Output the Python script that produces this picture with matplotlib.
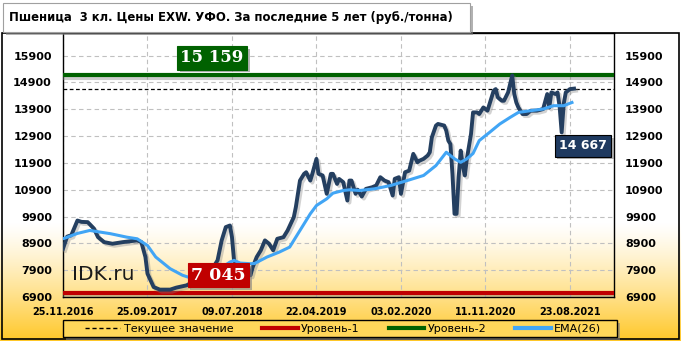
import numpy as np
import matplotlib
matplotlib.use("Agg")
import matplotlib.pyplot as plt
import matplotlib.patheffects as pe
from matplotlib.lines import Line2D
from matplotlib.patches import Rectangle

# weekly prices (week index, rub/t)
price_points = [
    (0, 8700), (2, 9150), (4, 9200), (7, 9750), (9, 9700), (12, 9690), (15, 9450),
    (17, 9130), (20, 8945), (24, 8885), (29, 8945), (36, 9010), (38, 8950), (40, 8390),
    (41, 7770), (44, 7270), (47, 7175), (52, 7175), (55, 7250), (60, 7335), (63, 7460),
    (68, 7650), (72, 7900), (75, 8265), (77, 9010), (79, 9505), (81, 9565), (82, 9130),
    (83, 8265), (84, 8140), (89, 7955), (91, 7710), (92, 8000), (94, 8390), (96, 8640),
    (98, 9010), (100, 8885), (102, 8640), (104, 9070), (107, 9130), (109, 9380),
    (112, 9875), (113, 10250), (115, 11240), (117, 11490), (118, 11550), (120, 11240),
    (121, 11490), (123, 12050), (124, 11490), (126, 11430), (128, 10745), (130, 11490),
    (131, 11490), (133, 11115), (134, 11300), (136, 11180), (138, 10495), (139, 11240),
    (140, 11240), (142, 10745), (143, 10900), (145, 10645), (147, 10930), (150, 10990),
    (152, 11055), (154, 11365), (156, 11240), (158, 11180), (160, 10680), (161, 11305),
    (163, 11365), (164, 10745), (166, 11550), (168, 11610), (170, 12235), (172, 11920),
    (173, 11980), (175, 12050), (177, 12175), (178, 12295), (179, 12850), (181, 13290),
    (182, 13350), (185, 13290), (186, 13100), (187, 12730), (188, 12600), (189, 11490),
    (190, 10000), (191, 10000), (192, 11365), (193, 12355), (194, 11800), (195, 11430),
    (196, 12050), (198, 12975), (199, 13780), (201, 13780), (202, 13720), (204, 13965),
    (206, 13845), (207, 14090), (209, 14590), (210, 14650), (211, 14340), (213, 14215),
    (214, 14215), (216, 14525), (218, 15159), (219, 14465), (220, 14150), (221, 13965),
    (223, 13720), (225, 13720), (227, 13845), (230, 13845), (233, 13905), (235, 14465),
    (236, 13965), (237, 14525), (239, 14465), (240, 14525), (241, 14000), (242, 13035),
    (243, 14100), (244, 14525), (246, 14650), (248, 14667),
]

ema_points = [
    (0, 9070), (7, 9270), (13, 9380), (23, 9260), (31, 9130), (36, 9070), (41, 8820),
    (45, 8390), (52, 7955), (58, 7710), (63, 7585), (70, 7680), (76, 7950), (81, 8200),
    (83, 8265), (86, 8165), (91, 8140), (93, 8150), (99, 8390), (105, 8575), (110, 8760),
    (115, 9380), (120, 10000), (123, 10310), (128, 10560), (131, 10770), (136, 10870),
    (139, 10895), (144, 10870), (151, 10930), (159, 11055), (167, 11240), (175, 11430),
    (181, 11800), (186, 12295), (190, 12050), (193, 11920), (196, 12050), (199, 12250),
    (202, 12730), (207, 13035), (212, 13350), (217, 13595), (221, 13780), (227, 13845),
    (233, 13905), (238, 14030), (243, 14030), (247, 14150),
]

tick_weeks = [0, 41, 82, 123, 164, 205, 246]
tick_dates = ["25.11.2016", "25.09.2017", "09.07.2018", "22.04.2019",
              "03.02.2020", "11.11.2020", "23.08.2021"]
y_ticks = [6900, 7900, 8900, 9900, 10900, 11900, 12900, 13900, 14900, 15900]

level1 = 7045
level2 = 15159
current = 14667

title = "Пшеница  3 кл. Цены EXW. УФО. За последние 5 лет (руб./тонна)"
legend_labels = ["Текущее значение", "Уровень-1", "Уровень-2", "EMA(26)"]

W, H = 681, 341
fig = plt.figure(figsize=(W / 100, H / 100), dpi=100)

# background: white fading into gold at the bottom
bg = fig.add_axes([0, 0, 1, 1], zorder=-10)
bg.axis("off")
rows = np.arange(H)
t = np.clip((rows - 222) / (H - 222), 0, 1) ** 1.25
white = np.array([1.0, 1.0, 1.0])
gold = np.array([1.0, 0.78, 0.15])
grad = white[None, :] * (1 - t[:, None]) + gold[None, :] * t[:, None]
img = np.repeat(grad[:, None, :], 4, axis=1)
bg.imshow(img, aspect="auto", extent=[0, 1, 0, 1], origin="upper")
bg.set_xlim(0, 1)
bg.set_ylim(0, 1)

# outer frame
fig.patches.append(Rectangle((1.5 / W, 2 / H), 677 / W, 306 / H, transform=fig.transFigure,
                             fill=False, edgecolor="black", linewidth=1.2, zorder=1))

ax = fig.add_axes([63 / W, (H - 297) / H, 551 / W, 264 / H])
ax.set_facecolor("none")

pw, pv = zip(*price_points)
ew, ev = zip(*ema_points)

ax.axhline(current, color="black", linestyle=(0, (3, 2)), linewidth=0.9, zorder=3)
shadow = [pe.SimpleLineShadow(offset=(1.5, -1.5), shadow_color="gray", alpha=0.4), pe.Normal()]
ax.axhline(level1, color="#C00000", linewidth=3, zorder=4, path_effects=shadow)
ax.axhline(level2, color="#006100", linewidth=3, zorder=4, path_effects=shadow)
ax.plot(pw, pv, color="#243F60", linewidth=2.8, solid_joinstyle="round", zorder=5,
        path_effects=[pe.SimpleLineShadow(offset=(1.5, -1.5), shadow_color="gray", alpha=0.35),
                      pe.Normal()])
ax.plot(ew, ev, color="#41A5F5", linewidth=2.2, zorder=6)

ax.set_xlim(0, 267.4)
ax.set_ylim(6900, 16740)
ax.set_xticks(tick_weeks)
ax.set_xticklabels(tick_dates, fontsize=7, fontweight="bold")
ax.set_yticks(y_ticks)
ax.set_yticklabels([str(v) for v in y_ticks], fontsize=8, fontweight="bold")
ax.tick_params(axis="both", length=0)
ax.tick_params(axis="y", pad=8, labelright=True)
ax.tick_params(axis="x", pad=7)
ax.grid(True, color="#C0C0C0", linestyle=(0, (4, 3)), linewidth=0.8)
ax.set_axisbelow(True)
for s in ax.spines.values():
    s.set_color("black")
    s.set_linewidth(1)

ax.text(4.4, 7745, "IDK.ru", fontsize=14.5, color="#1A1A1A", va="center", ha="left", zorder=7)

box_shadow = [pe.SimplePatchShadow(offset=(2, -2), shadow_rgbFace="gray", alpha=0.6), pe.Normal()]
labels = [
    (72.3, 15814, "15 159", "#006100", "serif", 12, 0.2),
    (75.4, 7707, "7 045", "#C00000", "serif", 12.5, 0.2),
    (252.3, 12542, "14 667", "#1F3A60", "sans-serif", 9, 0.35),
]
for x, y, s, c, fam, fs, pad in labels:
    txt = ax.text(x, y, s, color="white", fontsize=fs, fontweight="bold", family=fam,
                  ha="center", va="center", zorder=8,
                  bbox=dict(boxstyle=f"square,pad={pad}", facecolor=c,
                            edgecolor="black" if fam == "sans-serif" else c, linewidth=0.8))
    txt.get_bbox_patch().set_path_effects(box_shadow)

# title box
fig.patches.append(Rectangle((3 / W, 1 - 32 / H), 467 / W, 29 / H, transform=fig.transFigure,
                             facecolor="white", edgecolor="#A0A0A0", linewidth=0.8, zorder=3,
                             path_effects=box_shadow))
fig.text(9 / W, 1 - 17.5 / H, title, fontsize=8.4, fontweight="bold", va="center", ha="left",
         zorder=4)

# legend box
fig.patches.append(Rectangle((63 / W, 4 / H), 554 / W, 17 / H, transform=fig.transFigure,
                             facecolor="#FFD75A", edgecolor="black", linewidth=1, zorder=3,
                             path_effects=box_shadow))
handles = [
    Line2D([], [], color="black", linestyle=(0, (3, 2)), linewidth=1),
    Line2D([], [], color="#C00000", linewidth=3),
    Line2D([], [], color="#006100", linewidth=3),
    Line2D([], [], color="#41A5F5", linewidth=3),
]
leg = fig.legend(handles, legend_labels, loc="center", ncol=4,
                 bbox_to_anchor=(343 / W, 12.5 / H), fontsize=8,
                 handlelength=3.2, handletextpad=0.3, columnspacing=2.6,
                 borderpad=0.1, frameon=False)
leg.set_zorder(5)

fig.savefig("out.png", dpi=100)
